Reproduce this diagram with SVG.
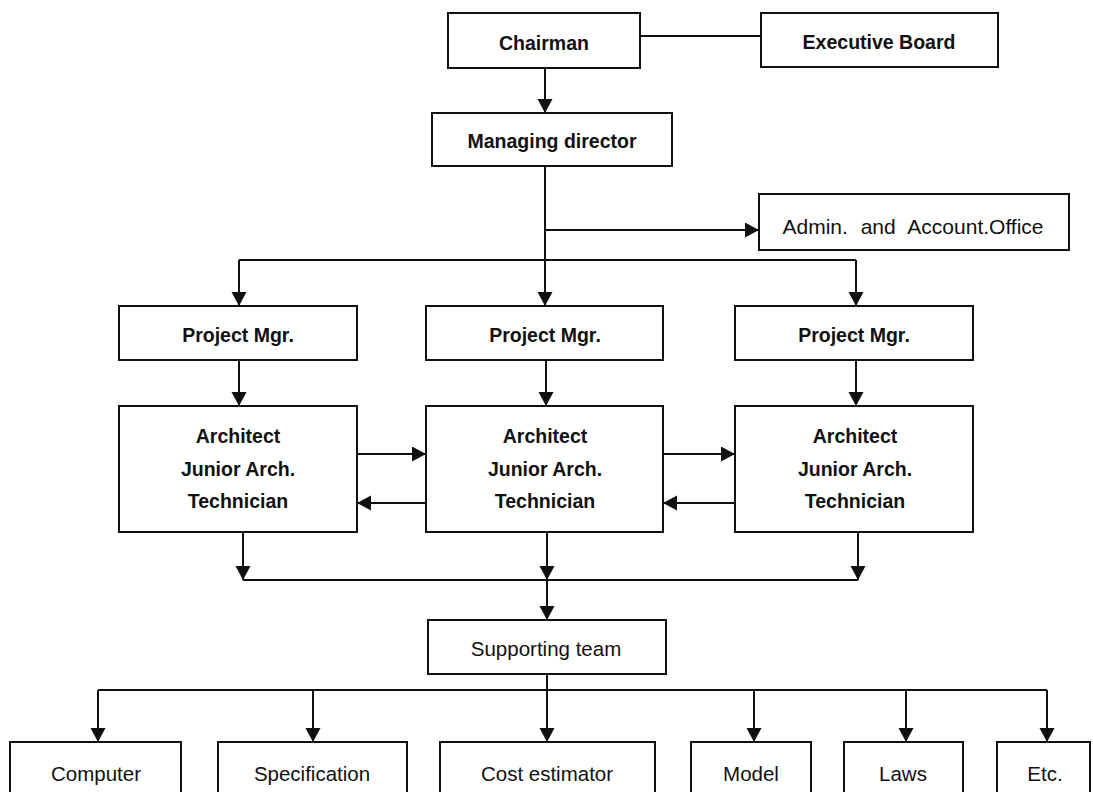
<svg xmlns="http://www.w3.org/2000/svg" width="1093" height="792" viewBox="0 0 1093 792">
  <defs>
    <marker id="arrow" markerUnits="userSpaceOnUse" markerWidth="15" markerHeight="16" refX="14" refY="7.5" orient="auto">
      <path d="M0,0 L14,7.5 L0,15 Z" fill="#111"/>
    </marker>
    <style>
      .box { fill: #fff; stroke: #111; stroke-width: 2; }
      .line { fill: none; stroke: #111; stroke-width: 2; }
      .arr { fill: none; stroke: #111; stroke-width: 2; marker-end: url(#arrow); }
      .t { font-family: "Liberation Sans", Arial, sans-serif; fill: #111; text-anchor: middle; }
      .b { font-size: 19.5px; font-weight: bold; }
      .r { font-size: 20.5px; }
    </style>
  </defs>
  <rect width="1093" height="792" fill="#fff"/>

  <!-- connectors -->
  <g id="connectors">
    <line class="line" x1="640" y1="36" x2="761" y2="36"/>
    <line class="arr" x1="545" y1="68" x2="545" y2="113"/>
    <line class="arr" x1="545" y1="166" x2="545" y2="306"/>
    <line class="arr" x1="545" y1="230" x2="759" y2="230"/>
    <line class="line" x1="239" y1="260" x2="856" y2="260"/>
    <line class="arr" x1="239" y1="260" x2="239" y2="306"/>
    <line class="arr" x1="856" y1="260" x2="856" y2="306"/>

    <line class="arr" x1="239" y1="360" x2="239" y2="406"/>
    <line class="arr" x1="546" y1="360" x2="546" y2="406"/>
    <line class="arr" x1="856" y1="360" x2="856" y2="406"/>

    <line class="arr" x1="357" y1="454" x2="426" y2="454"/>
    <line class="arr" x1="426" y1="503" x2="357" y2="503"/>
    <line class="arr" x1="663" y1="454" x2="735" y2="454"/>
    <line class="arr" x1="735" y1="503" x2="663" y2="503"/>

    <line class="arr" x1="243" y1="532" x2="243" y2="580"/>
    <line class="arr" x1="547" y1="532" x2="547" y2="580"/>
    <line class="arr" x1="858" y1="532" x2="858" y2="580"/>
    <line class="line" x1="243" y1="580" x2="858" y2="580"/>
    <line class="arr" x1="547" y1="580" x2="547" y2="620"/>

    <line class="line" x1="547" y1="674" x2="547" y2="690"/>
    <line class="line" x1="98" y1="690" x2="1047" y2="690"/>
    <line class="arr" x1="98" y1="690" x2="98" y2="742"/>
    <line class="arr" x1="313" y1="690" x2="313" y2="742"/>
    <line class="arr" x1="547" y1="690" x2="547" y2="742"/>
    <line class="arr" x1="754" y1="690" x2="754" y2="742"/>
    <line class="arr" x1="906" y1="690" x2="906" y2="742"/>
    <line class="arr" x1="1047" y1="690" x2="1047" y2="742"/>
  </g>

  <!-- top management -->
  <g id="chairman">
    <rect class="box" x="448" y="13" width="192" height="55"/>
    <text class="t b" x="544" y="50">Chairman</text>
  </g>
  <g id="executive-board">
    <rect class="box" x="761" y="13" width="237" height="54"/>
    <text class="t b" x="879" y="49">Executive Board</text>
  </g>
  <g id="managing-director">
    <rect class="box" x="432" y="113" width="240" height="53"/>
    <text class="t b" x="552" y="148">Managing director</text>
  </g>
  <g id="admin-office">
    <rect class="box" x="759" y="194" width="310" height="56"/>
    <text class="t" x="913" y="234" font-size="21" word-spacing="7">Admin. and Account.Office</text>
  </g>

  <!-- project managers -->
  <g id="pm-left">
    <rect class="box" x="119" y="306" width="238" height="54"/>
    <text class="t b" x="238" y="342">Project Mgr.</text>
  </g>
  <g id="pm-middle">
    <rect class="box" x="426" y="306" width="237" height="54"/>
    <text class="t b" x="545" y="342">Project Mgr.</text>
  </g>
  <g id="pm-right">
    <rect class="box" x="735" y="306" width="238" height="54"/>
    <text class="t b" x="854" y="342">Project Mgr.</text>
  </g>

  <!-- design teams -->
  <g id="team-left">
    <rect class="box" x="119" y="406" width="238" height="126"/>
    <text class="t b" x="238" y="443">Architect</text>
    <text class="t b" x="238" y="476">Junior Arch.</text>
    <text class="t b" x="238" y="508">Technician</text>
  </g>
  <g id="team-middle">
    <rect class="box" x="426" y="406" width="237" height="126"/>
    <text class="t b" x="545" y="443">Architect</text>
    <text class="t b" x="545" y="476">Junior Arch.</text>
    <text class="t b" x="545" y="508">Technician</text>
  </g>
  <g id="team-right">
    <rect class="box" x="735" y="406" width="238" height="126"/>
    <text class="t b" x="855" y="443">Architect</text>
    <text class="t b" x="855" y="476">Junior Arch.</text>
    <text class="t b" x="855" y="508">Technician</text>
  </g>

  <!-- support -->
  <g id="supporting-team">
    <rect class="box" x="428" y="620" width="238" height="54"/>
    <text class="t r" x="546" y="656">Supporting team</text>
  </g>
  <g id="computer">
    <rect class="box" x="10" y="742" width="171" height="70"/>
    <text class="t r" x="96" y="781">Computer</text>
  </g>
  <g id="specification">
    <rect class="box" x="218" y="742" width="189" height="70"/>
    <text class="t r" x="312" y="781">Specification</text>
  </g>
  <g id="cost-estimator">
    <rect class="box" x="440" y="742" width="215" height="70"/>
    <text class="t r" x="547" y="781">Cost estimator</text>
  </g>
  <g id="model">
    <rect class="box" x="691" y="742" width="120" height="70"/>
    <text class="t r" x="751" y="781">Model</text>
  </g>
  <g id="laws">
    <rect class="box" x="844" y="742" width="119" height="70"/>
    <text class="t r" x="903" y="781">Laws</text>
  </g>
  <g id="etc">
    <rect class="box" x="997" y="742" width="93" height="70"/>
    <text class="t r" x="1045" y="781">Etc.</text>
  </g>
</svg>
